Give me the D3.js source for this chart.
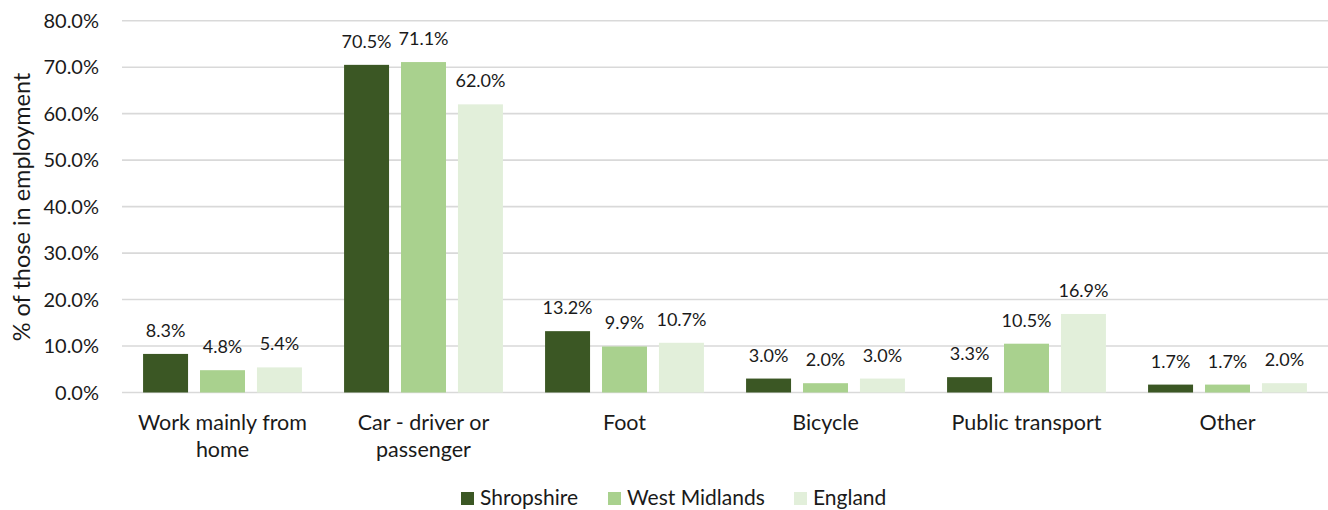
<!DOCTYPE html>
<html>
<head>
<meta charset="utf-8">
<script src="https://cdn.jsdelivr.net/npm/d3@7"></script>
<style>
  body { margin: 0; background: #fff; }
  text { font-family: Lato, "Open Sans", sans-serif; fill: #1a1a1a; }
</style>
</head>
<body>
<div id="chart"></div>
<script>
// categories and series
const categories = ["Work mainly from home", "Car - driver or passenger", "Foot", "Bicycle", "Public transport", "Other"];
const series = ["Shropshire", "West Midlands", "England"];
const shropshire = [8.3, 70.5, 13.2, 3.0, 3.3, 1.7];
const westMidlands = [4.8, 71.1, 9.9, 2.0, 10.5, 1.7];
const england = [5.4, 62.0, 10.7, 3.0, 16.9, 2.0];
const yTicks = [0, 10, 20, 30, 40, 50, 60, 70, 80];

// wrapped axis labels, as in the original
const catLines = {
  "Work mainly from home": ["Work mainly from", "home"],
  "Car - driver or passenger": ["Car - driver or", "passenger"]
};

const colors = ["#3b5724", "#a9d18e", "#e2efda"];
const values = [shropshire, westMidlands, england];

const W = 1328, H = 510;
const margin = { top: 20, right: 0, bottom: 118, left: 122 };

const svg = d3.select("#chart")
  .append("svg")
    .attr("width", W)
    .attr("height", H);

const x0 = d3.scaleBand()
  .domain(categories)
  .range([margin.left, W - margin.right])
  .paddingInner(0)
  .paddingOuter(0);

const x1 = d3.scaleBand()
  .domain(series)
  .range([0, x0.bandwidth()])
  .paddingInner(0.21)
  .paddingOuter(0.37);

const y = d3.scaleLinear()
  .domain([0, 80])
  .range([H - margin.bottom + 0.5, margin.top + 0.7]);

// gridlines
svg.append("g")
  .selectAll("line")
  .data(yTicks)
  .join("line")
    .attr("x1", margin.left)
    .attr("x2", W - margin.right)
    .attr("y1", d => y(d))
    .attr("y2", d => y(d))
    .attr("stroke", "#d9d9d9")
    .attr("stroke-width", 1.6);

// y tick labels
svg.append("g")
  .selectAll("text")
  .data(yTicks)
  .join("text")
    .attr("x", 99)
    .attr("y", d => y(d))
    .attr("dy", "0.36em")
    .attr("text-anchor", "end")
    .attr("font-size", 20)
    .text(d => d.toFixed(1) + "%");

// y axis title
svg.append("text")
  .attr("transform", "translate(30," + 207 + ") rotate(-90)")
  .attr("text-anchor", "middle")
  .attr("font-size", 23.5)
  .text("% of those in employment");

// bars
const groups = svg.append("g")
  .selectAll("g")
  .data(categories)
  .join("g")
    .attr("transform", d => "translate(" + x0(d) + ",0)");

groups.each(function (cat, ci) {
  const g = d3.select(this);
  const rows = series.map((s, si) => ({ s: s, si: si, v: values[si][ci] }));
  g.selectAll("rect")
    .data(rows)
    .join("rect")
      .attr("x", d => x1(d.s))
      .attr("width", x1.bandwidth())
      .attr("y", d => y(d.v))
      .attr("height", d => y(0) - y(d.v))
      .attr("fill", d => colors[d.si]);
  g.selectAll("text")
    .data(rows)
    .join("text")
      .attr("x", d => x1(d.s) + x1.bandwidth() / 2)
      .attr("y", d => y(d.v) - 17)
      .attr("text-anchor", "middle")
      .attr("font-size", 18)
      .text(d => d.v.toFixed(1) + "%");
});

// category labels
const catG = svg.append("g")
  .selectAll("text")
  .data(categories)
  .join("text")
    .attr("x", d => x0(d) + x0.bandwidth() / 2)
    .attr("y", 430)
    .attr("text-anchor", "middle")
    .attr("font-size", 21.5);

catG.each(function (d) {
  const lines = catLines[d] || [d];
  d3.select(this).selectAll("tspan")
    .data(lines)
    .join("tspan")
      .attr("x", x0(d) + x0.bandwidth() / 2)
      .attr("dy", (l, i) => i === 0 ? 0 : 27)
      .text(l => l);
});

// legend (kept just inside the bottom edge)
const legendX = [461, 608, 794];
const legend = svg.append("g")
  .selectAll("g")
  .data(series)
  .join("g")
    .attr("transform", (d, i) => "translate(" + legendX[i] + ",492)");

legend.append("rect")
  .attr("width", 13)
  .attr("height", 13)
  .attr("fill", (d, i) => colors[i]);

legend.append("text")
  .attr("x", 19)
  .attr("y", 13)
  .attr("font-size", 21)
  .text(d => d);
</script>
</body>
</html>
